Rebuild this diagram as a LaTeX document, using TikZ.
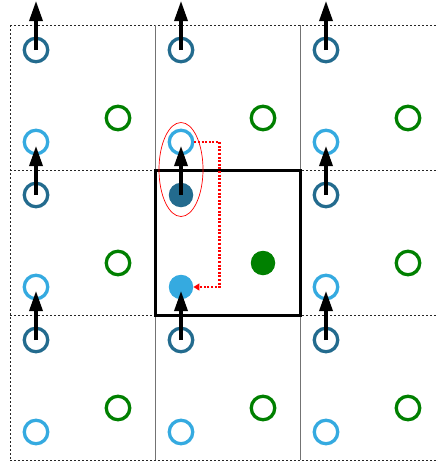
\documentclass[tikz,border=0pt]{standalone}
\usetikzlibrary{arrows.meta,calc}
\definecolor{darkb}{HTML}{236B8E}
\definecolor{lightb}{HTML}{35AAE0}
\definecolor{grn}{HTML}{008000}
\tikzset{
  gridline/.style={line width=0.9pt, dash pattern=on 2pt off 2pt, black!85},
  sepline/.style={line width=0.9pt, black!55},
  ring/.style={circle, draw, line width=3.3pt, minimum size=23.5pt, inner sep=0pt},
  dot/.style={circle, fill, minimum size=24.5pt, inner sep=0pt},
  uparrow/.style={line width=3.3pt, -{Triangle[length=20pt,width=13pt]}},
  hop/.style={red, line width=2.6pt, dash pattern=on 2pt off 1.6pt, -{Triangle[length=6pt,width=7pt]}},
}
\begin{document}
\begin{tikzpicture}[x=1pt,y=-1pt]
\useasboundingbox (0,0) rectangle (437,464);
\clip (0,0) rectangle (437,464);
% grid
\foreach \yy in {25,170,315,460} \draw[gridline] (10,\yy) -- (445,\yy);
\draw[gridline] (10,25) -- (10,460);
\draw[sepline] (155,25) -- (155,460);
\draw[sepline] (300,25) -- (300,460);
% circles
\foreach \i/\xo in {0/10,1/155,2/300}{
  \foreach \j/\yo in {0/25,1/170,2/315}{
    \ifnum\i=1 \ifnum\j=1 \else
      \node[ring, darkb] (d\i\j) at (\xo+26,\yo+25) {};
      \node[ring, lightb] (l\i\j) at (\xo+26,\yo+117) {};
      \node[ring, grn] (g\i\j) at (\xo+108,\yo+93) {};
    \fi\else
      \node[ring, darkb] (d\i\j) at (\xo+26,\yo+25) {};
      \node[ring, lightb] (l\i\j) at (\xo+26,\yo+117) {};
      \node[ring, grn] (g\i\j) at (\xo+108,\yo+93) {};
    \fi
  }
}
\node[dot, darkb] (d11) at (181,195) {};
\node[dot, lightb] (l11) at (181,287) {};
\node[dot, grn] (g11) at (263,263) {};
% central cell
\draw[line width=3pt] (155,170) rectangle (300,315);
% red ellipse
\draw[red, line width=0.7pt] (181,169.5) ellipse [x radius=22pt, y radius=47pt];
% arrows
\foreach \i in {0,1,2}{
  \foreach \j in {0,1,2}{
    \coordinate (t\i\j) at ($(d\i\j.center)+(0,-49)$);
    \draw[uparrow] (d\i\j.center) -- (t\i\j);
  }
}
% red hop
\draw[hop] (l10.east) -- ++(25,0) |- (l11.east);
\end{tikzpicture}
\end{document}
